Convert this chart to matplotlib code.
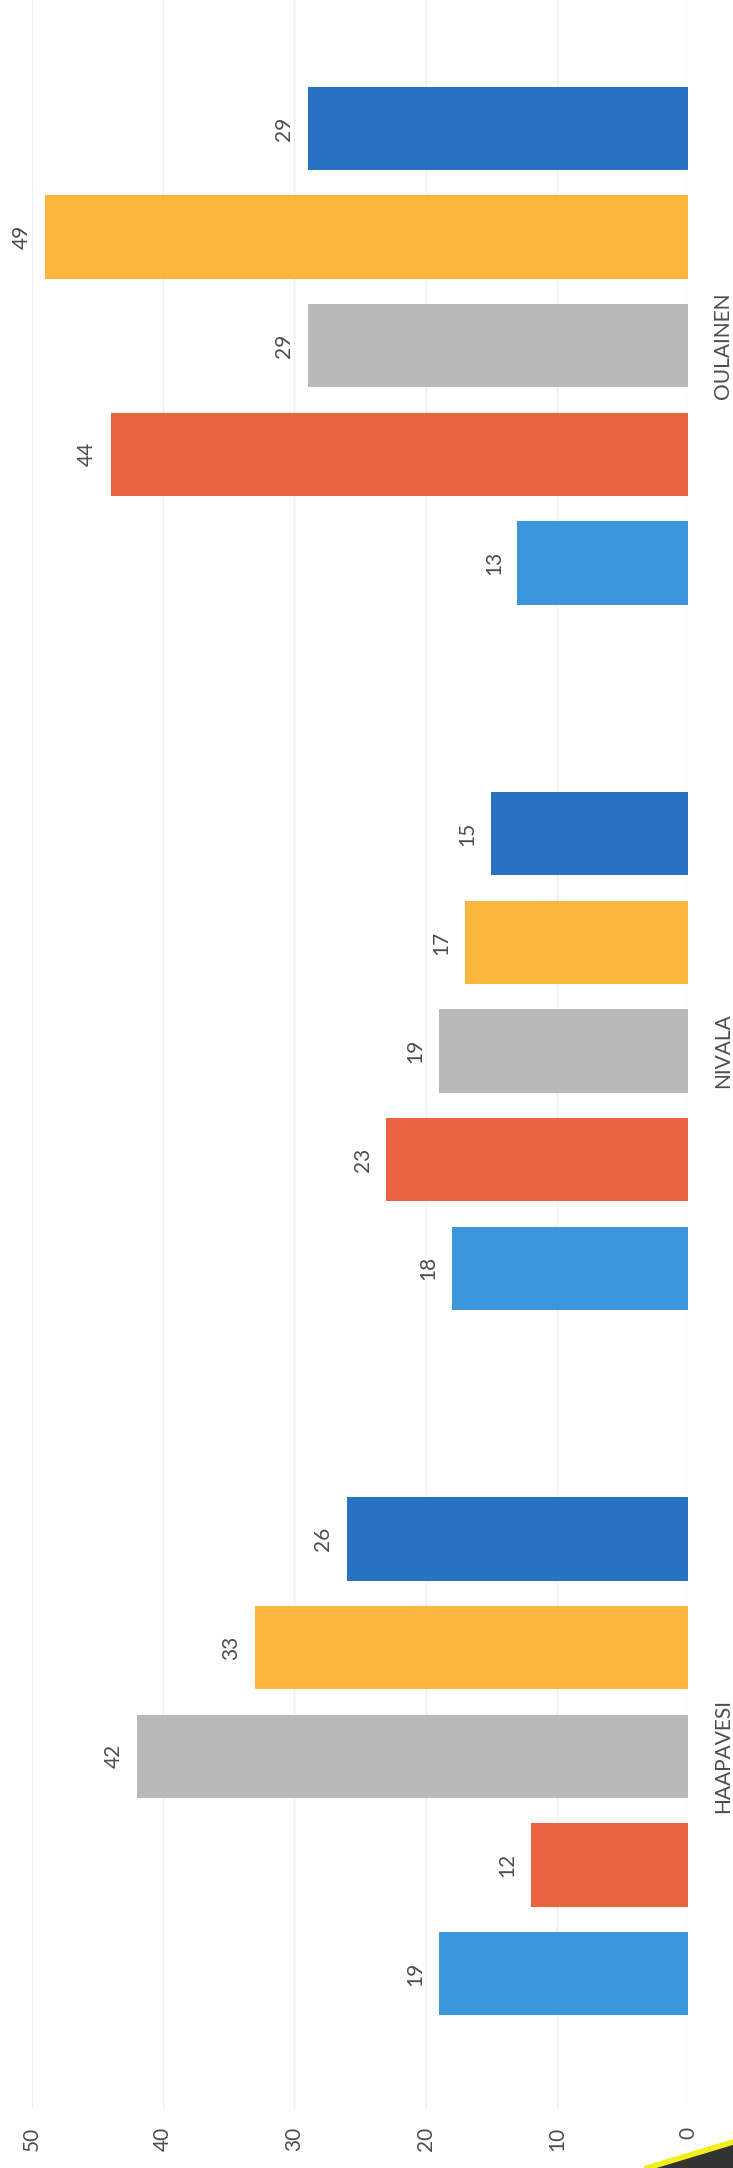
import matplotlib
matplotlib.use("Agg")
import matplotlib.pyplot as plt
from matplotlib.patches import Polygon
import numpy as np

plt.rcParams['font.family'] = ['Lato', 'DejaVu Sans']

# ---- data ----
categories = ["HAAPAVESI", "NIVALA", "OULAINEN"]
series_1 = [19, 18, 13]   # light blue
series_2 = [12, 23, 44]   # red
series_3 = [42, 19, 29]   # gray
series_4 = [33, 17, 49]   # orange
series_5 = [26, 15, 29]   # dark blue
series = [series_1, series_2, series_3, series_4, series_5]
colors = ["#3b96dc", "#e9643f", "#b9b9b9", "#fbb63d", "#2772c3"]
x_ticks = [0, 10, 20, 30, 40, 50]

text_color = "#4d4d4d"

fig = plt.figure(figsize=(7.33, 21.68), dpi=100)
fig.patch.set_facecolor("white")
ax = fig.add_axes([32 / 733, 59 / 2168, 656 / 733, 2116 / 2168])

ypos = np.arange(len(categories))
step = 0.154
height = 0.118
for i, (vals, col) in enumerate(zip(series, colors)):
    off = (i - 2) * step
    bars = ax.barh(ypos + off, vals, height=height, color=col, zorder=3)
    for rect, v in zip(bars, vals):
        ax.annotate(str(v), xy=(rect.get_width(), rect.get_y() + rect.get_height() / 2),
                    xytext=(-17, 0), textcoords="offset points",
                    rotation=90, ha="center", va="center",
                    fontsize=15, color=text_color)

ax.set_xlim(50, 0)
ax.set_ylim(-0.5, 2.5)
ax.set_xticks(x_ticks)
ax.set_xticklabels([str(t) for t in x_ticks], rotation=90, fontsize=15, color=text_color,
                   va="top", ha="center")
ax.tick_params(axis="x", length=0, pad=13)

ax.yaxis.tick_right()
ax.set_yticks(ypos)
ax.set_yticklabels(categories, rotation=90, fontsize=15, color=text_color,
                   va="center", ha="left")
ax.tick_params(axis="y", length=0, pad=18)

ax.grid(axis="x", color="#efefef", linewidth=1.0, zorder=0)
for s in ax.spines.values():
    s.set_visible(False)

# decorative page corner (scan artifact) at bottom right
fig.patches.append(Polygon([[647 / 733, 0], [1, 26 / 2168], [1, 0]], closed=True,
                           transform=fig.transFigure, facecolor="#333333",
                           edgecolor="none", zorder=5))
fig.lines.append(plt.Line2D([647 / 733, 1], [0, 26 / 2168], transform=fig.transFigure,
                            color="#f2ee1c", linewidth=4, zorder=6))

fig.savefig("out.png", dpi=100)
